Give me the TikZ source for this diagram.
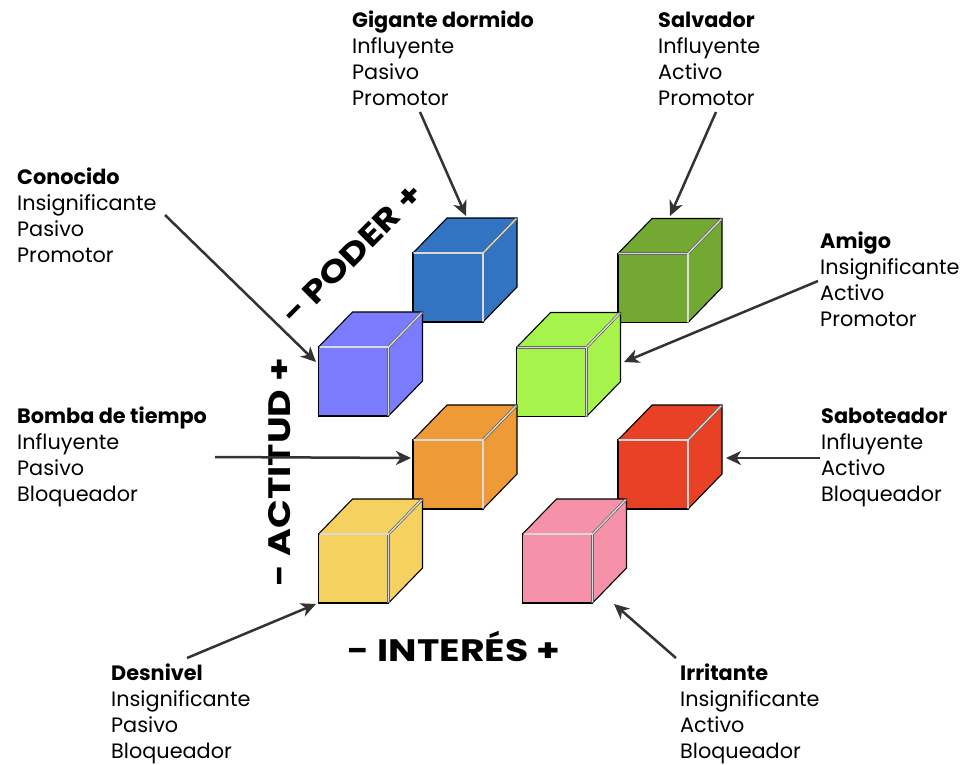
\documentclass[tikz,border=0pt]{standalone}
\usepackage{fontspec}
\setmainfont{Poppins}
\usetikzlibrary{arrows.meta,calc}
\definecolor{cBlue}{HTML}{3273C2}
\definecolor{cPurple}{HTML}{7B7BFE}
\definecolor{cOrange}{HTML}{EE9A36}
\definecolor{cYellow}{HTML}{F5D160}
\definecolor{cDGreen}{HTML}{73A933}
\definecolor{cLGreen}{HTML}{A6F44B}
\definecolor{cRed}{HTML}{E84126}
\definecolor{cPink}{HTML}{F591A9}
\definecolor{arrowgray}{HTML}{333333}
\tikzset{
  frontface/.style={draw=black, line width=1.1pt, minimum width=70pt, minimum height=69pt, inner sep=0pt, outer sep=0pt},
  facefill/.style={draw=black, line width=1.1pt, line join=round},
  hiA/.style={draw=black!60, line width=2.8pt},
  hiB/.style={draw=white!85!black, line width=1.3pt},
  ptr/.style={draw=arrowgray, line width=2.5pt, -{Stealth[length=15pt,width=14pt,inset=4.5pt]}},
  lbl/.style={anchor=base west, inner sep=0pt, align=left, font=\fontsize{20.8}{26}\selectfont},
  axis/.style={font=\fontsize{31}{32}\selectfont\bfseries, inner sep=0pt},
}
\newcommand\mycube[4]{%
  \node[frontface, fill=#4] (#1) at (#2,#3) {};
  \filldraw[facefill, fill=#4] (#1.north west) -- ++(34,-35) -- ($(#1.north east)+(34,-35)$) -- (#1.north east) -- cycle;
  \filldraw[facefill, fill=#4] (#1.north east) -- ++(34,-35) -- ++(0,69) -- (#1.south east) -- cycle;
  \draw[hiA] (#1.north west) -- (#1.north east) -- (#1.south east);
  \draw[hiA] (#1.north east) -- ++(34,-35);
  \draw[hiB] ([xshift=1pt]#1.north west) -- (#1.north east) -- ([yshift=1pt]#1.south east);
  \draw[hiB] (#1.north east) -- ++(33,-34);
}
\begin{document}
\begin{tikzpicture}[x=1pt,y=-1pt]
\useasboundingbox (0,0) rectangle (965,764);

% cubes (front face centres)
\mycube{blue}{448}{287.5}{cBlue}
\mycube{dgreen}{653}{288}{cDGreen}
\mycube{purple}{353.5}{381.5}{cPurple}
\mycube{lgreen}{551.5}{382}{cLGreen}
\mycube{orange}{448}{474.5}{cOrange}
\mycube{red}{653}{474.5}{cRed}
\mycube{yellow}{353.5}{568.5}{cYellow}
\mycube{pink}{557.5}{568.5}{cPink}

% axis labels
\node[axis, rotate=45] (poder) at (352,254) {\scalebox{1.2}[1]{- PODER +}};
\node[axis, rotate=90] (actitud) at (280,472) {\scalebox{1.22}[1]{- ACTITUD +}};
\node[axis] (interes) at (454,646) {\scalebox{1.22}[1]{- INTERÉS +}};

% text labels (anchored at baseline of last line)
\node[lbl] (gig) at (352,105) {\textbf{Gigante dormido}\\Influyente\\Pasivo\\Promotor};
\node[lbl] (sal) at (658,105) {\textbf{Salvador}\\Influyente\\Activo\\Promotor};
\node[lbl] (con) at (17,262) {\textbf{Conocido}\\Insignificante\\Pasivo\\Promotor};
\node[lbl] (ami) at (820,326) {\textbf{Amigo}\\Insignificante\\Activo\\Promotor};
\node[lbl] (bom) at (17,501) {\textbf{Bomba de tiempo}\\Influyente\\Pasivo\\Bloqueador};
\node[lbl] (sab) at (821,501) {\textbf{Saboteador}\\Influyente\\Activo\\Bloqueador};
\node[lbl] (des) at (111,758) {\textbf{Desnivel}\\Insignificante\\Pasivo\\Bloqueador};
\node[lbl] (irr) at (680,758) {\textbf{Irritante}\\Insignificante\\Activo\\Bloqueador};

% arrow end points
\coordinate (gigT) at (420,112); \coordinate (gigH) at (466,216);
\coordinate (salT) at (716,112); \coordinate (salH) at (670,216);
\coordinate (conT) at (165,215); \coordinate (conH) at (316,362);
\coordinate (amiT) at (818,281); \coordinate (amiH) at (624,362);
\coordinate (bomT) at (215,457); \coordinate (bomH) at (411,458);
\coordinate (sabT) at (820,458); \coordinate (sabH) at (726,458);
\coordinate (desT) at (187,658); \coordinate (desH) at (316,604);
\coordinate (irrT) at (676,658); \coordinate (irrH) at (614,604);

\draw[ptr] (gigT) -- (gigH);
\draw[ptr] (salT) -- (salH);
\draw[ptr] (conT) -- (conH);
\draw[ptr] (amiT) -- (amiH);
\draw[ptr] (bomT) -- (bomH);
\draw[ptr] (sabT) -- (sabH);
\draw[ptr] (desT) -- (desH);
\draw[ptr] (irrT) -- (irrH);
\end{tikzpicture}
\end{document}
